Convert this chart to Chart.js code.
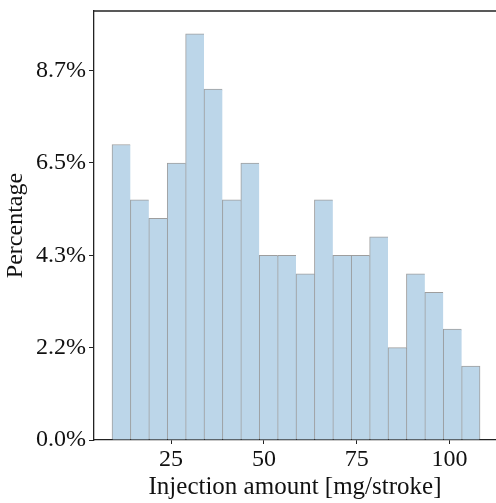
<!DOCTYPE html>
<html lang="en">
<head>
<meta charset="UTF-8">
<title>Injection amount histogram</title>
<script src="https://cdn.jsdelivr.net/npm/chart.js"></script>
<style>
  html, body { margin: 0; padding: 0; background: #fff; overflow: hidden; }
</style>
</head>
<body>
<canvas id="myChart" width="496" height="503"></canvas>
<script>
// histogram of 230 samples, 20 bins
const binStart = 9.1;
const binWidth = 4.955;
const binCounts = [16, 13, 12, 15, 22, 19, 13, 15, 10, 10, 9, 13, 10, 10, 11, 5, 9, 8, 6, 4];
const sampleTotal = 230;
const xTickValues = [25, 50, 75, 100];
const yTickCounts = [0, 5, 10, 15, 20];

const binCenters = binCounts.map((c, i) => binStart + binWidth * (i + 0.5));
const percents = binCounts.map(c => c / sampleTotal * 100);
const yTickValues = yTickCounts.map(c => c / sampleTotal * 100);

const serif = 'Liberation Serif';
const axisColor = '#222';

// top spine
const topSpine = {
    id: 'topSpine',
    afterDraw(chart) {
        const a = chart.chartArea;
        const ctx = chart.ctx;
        ctx.save();
        ctx.strokeStyle = axisColor;
        ctx.lineWidth = 1.3;
        ctx.beginPath();
        ctx.moveTo(a.left, a.top);
        ctx.lineTo(a.right, a.top);
        ctx.stroke();
        ctx.restore();
    }
};

const data = {
    datasets: [{
        data: binCenters.map((x, i) => ({ x: x, y: percents[i] })),
        backgroundColor: 'rgb(188,214,233)',
        borderColor: 'rgba(0,0,0,0.38)',
        borderWidth: (ctx) => ({ top: 1, left: 1, bottom: 0, right: ctx.dataIndex === binCounts.length - 1 ? 1 : 0 }),
        borderSkipped: false,
        barPercentage: 1,
        categoryPercentage: 1
    }]
};

const config = {
    type: 'bar',
    data: data,
    plugins: [topSpine],
    options: {
        responsive: false,
        animation: false,
        layout: { padding: { top: 11, right: 0, left: 0, bottom: 0 } },
        plugins: { legend: { display: false }, tooltip: { enabled: false } },
        scales: {
            x: {
                type: 'linear',
                offset: false,
                min: 4.25,
                max: 112.5,
                afterBuildTicks: (s) => { s.ticks = xTickValues.map(v => ({ value: v })); },
                afterFit: (s) => { s.height = 63; s.paddingLeft = 0; s.paddingRight = 0; },
                ticks: {
                    color: '#111',
                    font: { family: serif, size: 24 },
                    padding: 1,
                    maxRotation: 0
                },
                grid: { offset: false, drawOnChartArea: false, drawTicks: true, tickLength: 4, color: axisColor },
                border: { display: true, color: axisColor, width: 1.3 },
                title: {
                    display: true,
                    text: 'Injection amount [mg/stroke]',
                    color: '#111',
                    font: { family: serif, size: 25 },
                    padding: { top: 0, bottom: 1 }
                }
            },
            y: {
                min: 0,
                max: 10.1,
                afterBuildTicks: (s) => { s.ticks = yTickValues.map(v => ({ value: v })); },
                afterFit: (s) => { s.width = 94; s.paddingTop = 0; s.paddingBottom = 0; },
                ticks: {
                    color: '#111',
                    font: { family: serif, size: 24 },
                    padding: 3,
                    callback: (v) => v.toFixed(1) + '%'
                },
                grid: { drawOnChartArea: false, drawTicks: true, tickLength: 5, color: axisColor },
                border: { display: true, color: axisColor, width: 1.3 },
                title: {
                    display: true,
                    text: 'Percentage',
                    color: '#111',
                    font: { family: serif, size: 24 },
                    padding: { top: 1, bottom: 0 }
                }
            }
        }
    }
};

const myChart = new Chart(document.querySelector('#myChart'), config);
</script>
</body>
</html>
